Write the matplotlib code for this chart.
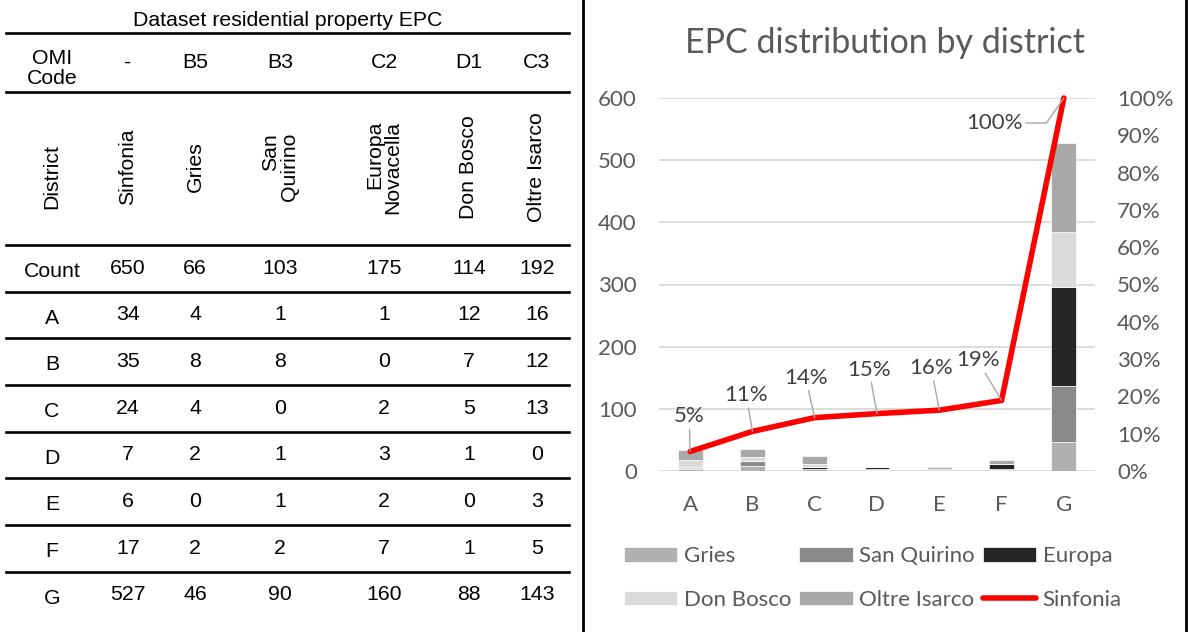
import matplotlib
matplotlib.use("Agg")
import matplotlib.pyplot as plt
import numpy as np
from matplotlib.lines import Line2D

# ---------------- data ----------------
grades = ["A", "B", "C", "D", "E", "F", "G"]
omi_codes = ["-", "B5", "B3", "C2", "D1", "C3"]
district_names = ["Sinfonia", "Gries", "San\nQuirino", "Europa\nNovacella", "Don Bosco", "Oltre Isarco"]
counts = [650, 66, 103, 175, 114, 192]
sinfonia = [34, 35, 24, 7, 6, 17, 527]
gries = [4, 8, 4, 2, 0, 2, 46]
san_quirino = [1, 8, 0, 1, 1, 2, 90]
europa = [1, 0, 2, 3, 2, 7, 160]
don_bosco = [12, 7, 5, 1, 0, 1, 88]
oltre_isarco = [16, 12, 13, 0, 3, 5, 143]

bar_series = [("Gries", gries), ("San Quirino", san_quirino), ("Europa", europa),
              ("Don Bosco", don_bosco), ("Oltre Isarco", oltre_isarco)]
bar_colors = ["#b0b0b0", "#8a8a8a", "#262626", "#dadada", "#a9a9a9"]

W, H = 1189, 632
fig = plt.figure(figsize=(W / 100, H / 100), dpi=100)

def fx(px):
    return px / W

def fy(py):
    return 1 - py / H

# ---------------- table (left) ----------------
TF = "Liberation Sans"
TS = 15.3
col_x = [52, 128, 195, 280, 384, 469, 537]
fig.text(fx(288), fy(21), "Dataset residential property EPC", ha="center", va="center",
         family=TF, fontsize=TS)
for yl in [33, 91.7, 245, 291.7, 338, 385, 431.7, 478, 525, 571.7]:
    fig.add_artist(Line2D([fx(6), fx(569)], [fy(yl), fy(yl)], color="black", lw=1.9))

fig.text(fx(col_x[0]), fy(68.5), "OMI\nCode", ha="center", va="center", family=TF,
         fontsize=TS, linespacing=1.1)
for x, c in zip(col_x[1:], omi_codes):
    fig.text(fx(x), fy(62), c, ha="center", va="center", family=TF, fontsize=TS)

fig.text(fx(col_x[0]), fy(177), "District", ha="center", va="center", rotation=90,
         family=TF, fontsize=TS)
for x, d in zip(col_x[1:], district_names):
    fig.text(fx(x), fy(167), d, ha="center", va="center", rotation=90, family=TF,
             fontsize=TS, multialignment="right", linespacing=0.95)

fig.text(fx(col_x[0]), fy(271), "Count", ha="center", va="center", family=TF, fontsize=TS)
for x, c in zip(col_x[1:], counts):
    fig.text(fx(x), fy(268), str(c), ha="center", va="center", family=TF, fontsize=TS)

rows = [sinfonia, gries, san_quirino, europa, don_bosco, oltre_isarco]
row_y = [315, 361.7, 408.5, 455, 501.7, 548.5, 595]
for gi, g in enumerate(grades):
    fig.text(fx(col_x[0]), fy(row_y[gi] + 3), g, ha="center", va="center", family=TF, fontsize=TS)
    for ci, series in enumerate(rows):
        fig.text(fx(col_x[ci + 1]), fy(row_y[gi]), str(series[gi]), ha="center", va="center",
                 family=TF, fontsize=TS)

# dividers / border
fig.add_artist(Line2D([fx(583), fx(583)], [0, 1], color="black", lw=2))
fig.add_artist(Line2D([fx(1185.5), fx(1185.5)], [0, 1], color="black", lw=2))

# ---------------- chart (right) ----------------
CF = "Lato"
TXT = "#595959"
FS = 16
ax = fig.add_axes([fx(659), fy(471), fx(1095) - fx(659), fy(98) - fy(471)])
x = np.arange(len(grades))
bottom = np.zeros(len(grades))
handles = {}
for (name, vals), col in zip(bar_series, bar_colors):
    b = ax.bar(x, vals, width=0.4, bottom=bottom, color=col, edgecolor="white",
               linewidth=0.5, label=name, zorder=2)
    handles[name] = b
    bottom += np.array(vals)

ax.set_xlim(-0.5, len(grades) - 0.5)
ax.set_ylim(0, 600)
ax.set_yticks(np.arange(0, 601, 100))
ax.set_xticks(x)
ax.set_xticklabels(grades)
ax.yaxis.grid(True, color="#d9d9d9", lw=1.3, zorder=0)
ax.set_axisbelow(True)
for s in ax.spines.values():
    s.set_visible(False)
ax.tick_params(axis="both", length=0, colors=TXT, labelsize=FS)
ax.tick_params(axis="y", pad=16)
ax.tick_params(axis="x", pad=17)
for lab in ax.get_xticklabels() + ax.get_yticklabels():
    lab.set_family(CF)

ax2 = ax.twinx()
ax2.set_ylim(0, 1)
ax2.set_yticks(np.arange(0, 1.01, 0.1))
ax2.set_yticklabels([f"{int(round(v * 100))}%" for v in np.arange(0, 1.01, 0.1)])
for s in ax2.spines.values():
    s.set_visible(False)
ax2.tick_params(axis="y", length=0, colors=TXT, labelsize=FS, pad=16)
for lab in ax2.get_yticklabels():
    lab.set_family(CF)

cum = np.cumsum(sinfonia) / np.sum(sinfonia)
line, = ax2.plot(x, cum, color="#ff0000", lw=4.0, solid_joinstyle="round",
                 solid_capstyle="round", clip_on=False, zorder=3, label="Sinfonia")

label_offsets = [(-1, 35), (-6, 36), (-9, 40), (-8, 44), (-8, 42), (-24, 40), (-69, -25)]
for i, (v, off) in enumerate(zip(cum, label_offsets)):
    cs = "angle,angleA=0,angleB=55,rad=0" if i == len(cum) - 1 else "arc3"
    ax2.annotate(f"{int(round(v * 100))}%", xy=(x[i], v), xytext=off,
                 textcoords="offset pixels", ha="center", va="center",
                 fontsize=FS, family=CF, color="#404040",
                 arrowprops=dict(arrowstyle="-", color="#a6a6a6", lw=1.0,
                                 shrinkA=0, shrinkB=0, connectionstyle=cs),
                 zorder=4, annotation_clip=False)

fig.text(fx(885), fy(43), "EPC distribution by district", ha="center", va="center",
         family=CF, fontsize=24.5, color=TXT)

order = ["Gries", "Don Bosco", "San Quirino", "Oltre Isarco", "Europa"]
hl = [handles[n] for n in order] + [line]
ll = order + ["Sinfonia"]
leg = fig.legend(hl, ll, ncol=3, loc="center left",
                 bbox_to_anchor=(fx(613), fy(578)), frameon=False,
                 prop={"family": CF, "size": FS}, labelcolor=TXT,
                 handlelength=2.4, handleheight=0.6, handletextpad=0.3,
                 columnspacing=0.35, labelspacing=1.05, borderpad=0)

fig.savefig("out.png", dpi=100)
